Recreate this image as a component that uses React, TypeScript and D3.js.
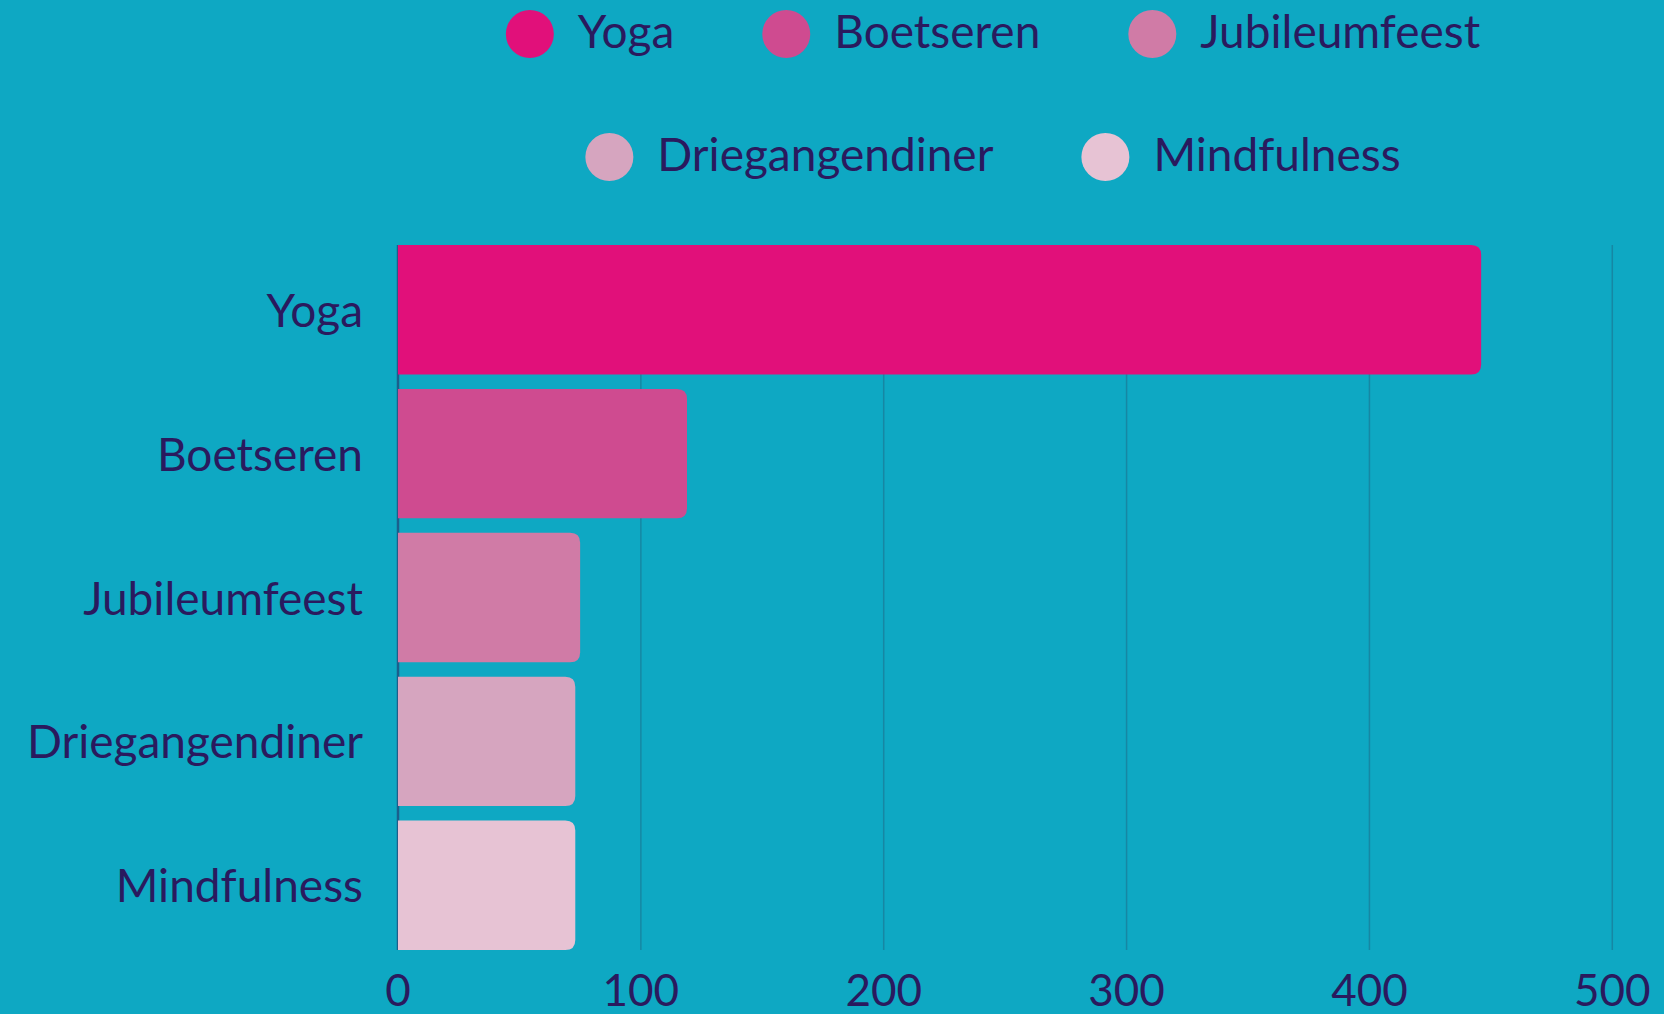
import React, { useMemo } from "react";
import * as d3 from "d3";

const categories = ["Yoga", "Boetseren", "Jubileumfeest", "Driegangendiner", "Mindfulness"];
const values = [446, 119, 75, 73, 73];
const colors = ["#E1107A", "#CF4B90", "#D07BA6", "#D6A5BF", "#E7C3D4"];
const xTicks = [0, 100, 200, 300, 400, 500];
const legendRows = [
  ["Yoga", "Boetseren", "Jubileumfeest"],
  ["Driegangendiner", "Mindfulness"],
];

const W = 1664;
const H = 1014;
const BG = "#0EA8C3";
const TEXT = "#2A1A5E";
const FONT = "Lato, 'Open Sans', sans-serif";
const FS = 46;
const FW = 400;

function measure(text: string, size: number) {
  const c = document.createElement("canvas").getContext("2d");
  if (!c) return text.length * size * 0.5;
  c.font = `${FW} ${size}px Lato`;
  return c.measureText(text).width;
}

function barPath(x0: number, y: number, w: number, h: number, r: number) {
  const rr = Math.min(r, w / 2, h / 2);
  const x1 = x0 + w;
  return `M${x0},${y}H${x1 - rr}Q${x1},${y} ${x1},${y + rr}V${y + h - rr}Q${x1},${y + h} ${x1 - rr},${y + h}H${x0}Z`;
}

export default function App() {
  React.useEffect(() => {
    document.body.style.margin = "0";
    document.body.style.background = BG;
  }, []);

  const x = d3.scaleLinear().domain([0, 500]).range([398, 1612.3]);
  const y = d3.scaleBand<string>().domain(categories).range([245, 950]).paddingInner(0.1).paddingOuter(0);

  const legend = useMemo(() => {
    const r = 24;
    const gapText = 24;
    const gapItem = 88;
    const cx = 993;
    const rowsBaseline = [48, 171];
    const rowsCenter = [34, 157];
    const items: { name: string; color: string; cx: number; cy: number; tx: number; ty: number }[] = [];
    legendRows.forEach((row, ri) => {
      const widths = row.map((n) => 2 * r + gapText + measure(n, FS));
      const total = d3.sum(widths) + gapItem * (row.length - 1);
      let left = cx - total / 2;
      row.forEach((n, i) => {
        items.push({
          name: n,
          color: colors[categories.indexOf(n)],
          cx: left + r,
          cy: rowsCenter[ri],
          tx: left + 2 * r + gapText,
          ty: rowsBaseline[ri],
        });
        left += widths[i] + gapItem;
      });
    });
    return items;
  }, []);

  return (
    <svg width={W} height={H} style={{ position: "absolute", left: 0, top: 0, display: "block" }} fontFamily={FONT} fontWeight={FW}>
      <rect width={W} height={H} fill={BG} />
      {xTicks.slice(1).map((t) => (
        <line key={t} x1={x(t)} x2={x(t)} y1={245} y2={950} stroke="#1687A3" strokeWidth={1.5} />
      ))}
      <line x1={x(0)} x2={x(0)} y1={245} y2={950} stroke="#1B5F8C" strokeWidth={2.5} />
      {categories.map((c, i) => (
        <path
          key={c}
          d={barPath(x(0), y(c) as number, x(values[i]) - x(0), y.bandwidth(), 10)}
          fill={colors[i]}
        />
      ))}
      {categories.map((c) => (
        <text
          key={c}
          x={363}
          y={(y(c) as number) + y.bandwidth() / 2 + 17}
          textAnchor="end"
          fontSize={FS}
          fill={TEXT}
        >
          {c}
        </text>
      ))}
      {xTicks.map((t) => (
        <text key={t} x={x(t)} y={1006} textAnchor="middle" fontSize={44} fill={TEXT}>
          {t}
        </text>
      ))}
      {legend.map((it) => (
        <g key={it.name}>
          <circle cx={it.cx} cy={it.cy} r={24} fill={it.color} />
          <text x={it.tx} y={it.ty} fontSize={FS} fill={TEXT}>
            {it.name}
          </text>
        </g>
      ))}
    </svg>
  );
}
